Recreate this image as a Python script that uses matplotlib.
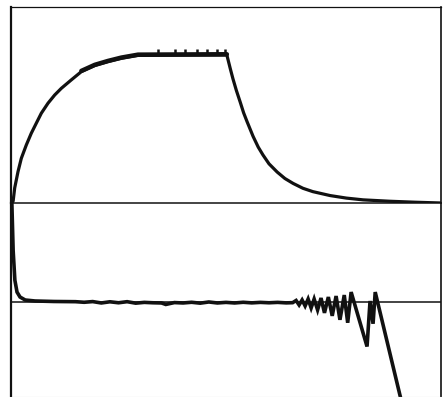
import numpy as np
import matplotlib
matplotlib.use("Agg")
import matplotlib.pyplot as plt

# upper trace: time (0..100) and response (0..100 of panel height)
up_t = [0.2, 0.5, 0.86, 1.63, 2.40, 3.56, 4.72, 5.88, 7.05, 8.60, 10.16, 11.70,
        14.02, 16.35, 19.47, 22.56, 25.65, 29.53, 50.2,
        51.0, 51.6, 52.4, 53.3, 54.1, 54.9, 56.3, 57.5, 58.6, 60.0, 61.9, 63.7,
        65.6, 67.9, 70.2, 74.2, 78.0, 81.9, 88.0, 94.0, 100.0]
up_v = [0.0, 1.0, 7.7, 16.0, 22.8, 29.6, 35.6, 40.7, 45.8, 50.9, 55.1, 58.5,
        62.8, 67.0, 70.1, 72.1, 73.8, 75.3, 75.5,
        68.5, 63.5, 57.5, 51.5, 46.0, 41.5, 34.0, 28.5, 24.5, 20.0, 15.8, 12.5,
        10.0, 7.5, 5.8, 3.8, 2.5, 1.6, 0.9, 0.4, 0.0]
# upward spikes on the plateau
spike_t = [34.2, 38.1, 40.5, 43.3, 45.6, 47.9, 49.8]
spike_v = [78.4, 78.6, 78.8, 78.6, 78.8, 78.6, 78.8]
plateau_v = 75.5

# lower trace: time and error signal
low_t = [0.2, 0.5, 0.9, 1.4, 2.1, 3.3, 5.6, 10, 15, 17, 19, 21, 23, 25, 27, 29, 31, 33,
         35, 36, 38, 40, 42, 44, 46, 48, 50, 52, 54, 56, 58, 60, 62, 64, 65.5,
         66.3, 67.0, 67.7, 68.4, 69.1, 69.8, 70.5, 71.3, 72.1, 72.9, 73.8, 74.7,
         75.6, 76.5, 77.5, 78.3, 79.1, 82.8, 83.5, 84.2, 84.7, 90.5, 92.0]
low_w = [100, 52, 22, 10, 5, 2, 1, 0.5, 0.3, -0.3, 0.4, -1.0, 0.2, -0.8, 0.3, -1.2, -0.4, -0.8,
         -1.0, -2.5, -0.6, -1.0, -0.3, -1.2, 0, -1.0, -0.4, -1.0, -0.3, -0.9, -0.4, -0.8,
         -0.4, -0.9, -0.7,
         1.5, -3, 2, -4, 3, -6, 3, -8, 4, -11, 5, -14,
         6, -18, 7, -21, 10, -45, 1, -22, 10, -95, -120]

ink = "#111111"
lw = 2.3

fig = plt.figure(figsize=(4.46, 3.97), dpi=100)
fig.patch.set_facecolor("white")

W, H = 446.0, 397.0
ax_up = fig.add_axes([11 / W, (H - 203) / H, 430 / W, 196 / H])
ax_lo = fig.add_axes([11 / W, 0.0, 430 / W, 194 / H])

ut = np.array(up_t)
uv = np.array(up_v)
ax_up.plot(ut, uv, color=ink, lw=lw, solid_joinstyle="round", solid_capstyle="round")
# thicker, jittery stretch just before the plateau
thick = (ut >= 16) & (ut <= 50.2)
ax_up.plot(ut[thick], uv[thick] + 0.4, color=ink, lw=3.2,
           solid_joinstyle="round", solid_capstyle="round")
ax_up.vlines(spike_t, plateau_v, spike_v, color=ink, lw=1.8)
ax_up.set_xlim(0, 100)
ax_up.set_ylim(0, 100)

ax_lo.plot(low_t, low_w, color=ink, lw=2.6, solid_joinstyle="miter")
ax_lo.axhline(0, color=ink, lw=1.1)
ax_lo.set_xlim(0, 100)
ax_lo.set_ylim(-96, 100)

for ax in (ax_up, ax_lo):
    ax.set_xticks([])
    ax.set_yticks([])
    ax.set_facecolor("none")
    ax.spines["left"].set_linewidth(1.6)
    ax.spines["right"].set_linewidth(1.2)
    for s in ax.spines.values():
        s.set_color(ink)

ax_up.spines["top"].set_linewidth(0.9)
ax_up.spines["bottom"].set_linewidth(1.1)
ax_lo.spines["top"].set_visible(False)
ax_lo.spines["bottom"].set_color("#bbbbbb")
ax_lo.spines["bottom"].set_linewidth(0.8)

fig.savefig("out.png", dpi=100, facecolor="white")
